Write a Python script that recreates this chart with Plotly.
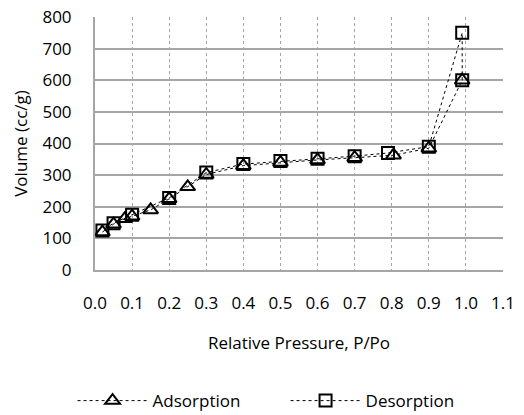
import plotly.graph_objects as go

ads_x = [0.02, 0.05, 0.08, 0.10, 0.15, 0.20, 0.25, 0.30, 0.40, 0.50, 0.60, 0.70, 0.805, 0.90, 0.99]
ads_y = [120, 145, 162, 170, 190, 225, 263, 302, 330, 340, 348, 355, 363, 385, 600]
des_x = [0.99, 0.99, 0.90, 0.79, 0.70, 0.60, 0.50, 0.40, 0.30, 0.20, 0.10, 0.05, 0.02]
des_y = [600, 750, 390, 370, 360, 352, 345, 335, 308, 228, 175, 148, 125]

x_ticks = [0.0, 0.1, 0.2, 0.3, 0.4, 0.5, 0.6, 0.7, 0.8, 0.9, 1.0, 1.1]
y_ticks = [0, 100, 200, 300, 400, 500, 600, 700, 800]

FONT = "Open Sans"

fig = go.Figure()
fig.add_trace(go.Scatter(
    x=ads_x, y=ads_y, name="Adsorption", mode="lines+markers",
    line=dict(color="black", width=1, dash="dot"),
    marker=dict(symbol="triangle-up-open", size=13, color="black", line=dict(width=2, color="black")),
))
fig.add_trace(go.Scatter(
    x=des_x, y=des_y, name="Desorption", mode="lines+markers",
    line=dict(color="black", width=1, dash="dot"),
    marker=dict(symbol="square-open", size=12, color="black", line=dict(width=2, color="black")),
))

fig.update_layout(
    width=524, height=415,
    margin=dict(l=95, r=21, t=17, b=145, autoexpand=False),
    paper_bgcolor="white", plot_bgcolor="white",
    font=dict(family=FONT, size=17, color="black"),
    showlegend=True,
    legend=dict(orientation="h", x=-0.055, xanchor="left",
                y=-0.518, yanchor="middle",
                font=dict(family=FONT, size=17), itemwidth=70,
                entrywidth=128, entrywidthmode="pixels"),
    xaxis=dict(
        range=[0, 1.1], tickvals=x_ticks, ticktext=[f"{v:.1f}" for v in x_ticks],
        showgrid=True, gridcolor="#a6a6a6", griddash="dot", gridwidth=1,
        showline=True, linecolor="#a6a6a6", linewidth=2, mirror=False,
        zeroline=False, ticks="", ticklabelstandoff=17,
        title=dict(text="Relative Pressure, P/Po", standoff=24, font=dict(size=17)),
        tickfont=dict(size=17),
    ),
    yaxis=dict(
        range=[0, 800], tickvals=y_ticks,
        showgrid=True, gridcolor="#a6a6a6", gridwidth=2,
        showline=True, linecolor="#a6a6a6", linewidth=2,
        zeroline=False, ticks="", ticklabelstandoff=18,
        title=dict(text="Volume (cc/g)", standoff=10, font=dict(size=17)),
        tickfont=dict(size=17),
    ),
)

fig.write_html("out.html")
